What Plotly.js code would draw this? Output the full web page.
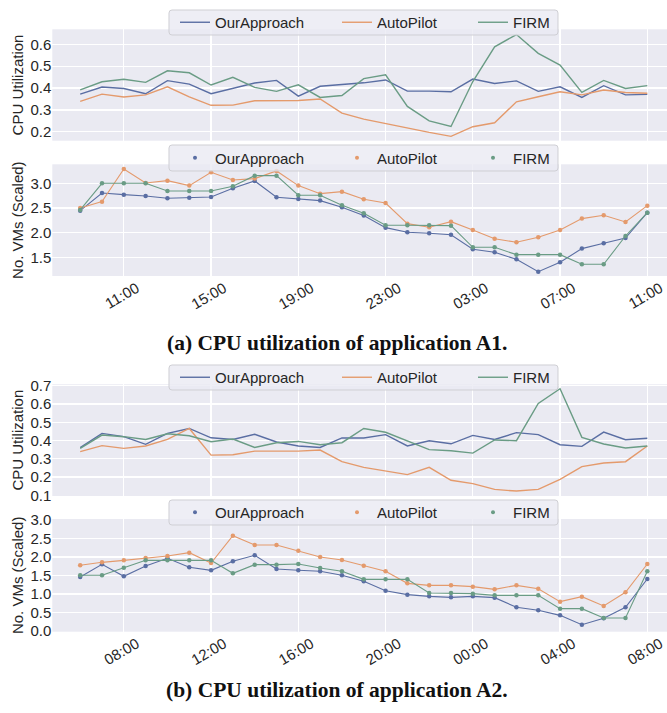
<!DOCTYPE html>
<html>
<head>
<meta charset="utf-8">
<script src="https://cdn.plot.ly/plotly-3.0.1.min.js"></script>
<style>html,body{margin:0;padding:0;background:#fff;}#chart{width:667px;height:713px;}</style>
</head>
<body>
<div id="chart"></div>
<script>
// ---------- data ----------
const seriesNames = ['OurApproach', 'AutoPilot', 'FIRM'];

const timesA = ['2023-01-01 09:00','2023-01-01 10:00','2023-01-01 11:00','2023-01-01 12:00','2023-01-01 13:00','2023-01-01 14:00','2023-01-01 15:00','2023-01-01 16:00','2023-01-01 17:00','2023-01-01 18:00','2023-01-01 19:00','2023-01-01 20:00','2023-01-01 21:00','2023-01-01 22:00','2023-01-01 23:00','2023-01-02 00:00','2023-01-02 01:00','2023-01-02 02:00','2023-01-02 03:00','2023-01-02 04:00','2023-01-02 05:00','2023-01-02 06:00','2023-01-02 07:00','2023-01-02 08:00','2023-01-02 09:00','2023-01-02 10:00','2023-01-02 11:00'];
const timesB = ['2023-01-01 06:00','2023-01-01 07:00','2023-01-01 08:00','2023-01-01 09:00','2023-01-01 10:00','2023-01-01 11:00','2023-01-01 12:00','2023-01-01 13:00','2023-01-01 14:00','2023-01-01 15:00','2023-01-01 16:00','2023-01-01 17:00','2023-01-01 18:00','2023-01-01 19:00','2023-01-01 20:00','2023-01-01 21:00','2023-01-01 22:00','2023-01-01 23:00','2023-01-02 00:00','2023-01-02 01:00','2023-01-02 02:00','2023-01-02 03:00','2023-01-02 04:00','2023-01-02 05:00','2023-01-02 06:00','2023-01-02 07:00','2023-01-02 08:00'];

// (a) application A1 - CPU utilization
const cpuA_our  = [0.372,0.405,0.398,0.374,0.434,0.418,0.374,0.398,0.423,0.435,0.363,0.408,0.417,0.424,0.437,0.386,0.386,0.383,0.441,0.421,0.433,0.385,0.406,0.357,0.411,0.369,0.371];
const cpuA_auto = [0.339,0.372,0.359,0.369,0.406,0.360,0.321,0.322,0.342,0.342,0.343,0.350,0.285,0.258,0.237,0.217,0.197,0.179,0.223,0.241,0.337,0.360,0.383,0.369,0.391,0.380,0.376];
const cpuA_firm = [0.392,0.429,0.440,0.426,0.479,0.470,0.414,0.449,0.403,0.385,0.415,0.357,0.366,0.443,0.461,0.316,0.250,0.224,0.430,0.589,0.645,0.559,0.505,0.380,0.435,0.398,0.411];
// (a) application A1 - No. VMs (scaled)
const vmA_our  = [2.446,2.804,2.770,2.743,2.696,2.709,2.723,2.899,3.047,2.716,2.682,2.649,2.514,2.345,2.101,2.007,1.986,1.958,1.662,1.601,1.459,1.208,1.399,1.676,1.784,1.891,2.405];
const vmA_auto = [2.500,2.628,3.290,3.007,3.054,2.953,3.223,3.068,3.095,3.250,2.953,2.790,2.831,2.676,2.601,2.182,2.108,2.222,2.053,1.877,1.804,1.905,2.053,2.284,2.351,2.216,2.547];
const vmA_firm = [2.460,3.000,3.000,3.000,2.845,2.845,2.845,2.939,3.155,3.155,2.757,2.757,2.554,2.392,2.149,2.149,2.149,2.142,1.703,1.703,1.554,1.554,1.554,1.358,1.358,1.932,2.405];

// (b) application A2 - CPU utilization
const cpuB_our  = [0.361,0.439,0.421,0.379,0.439,0.466,0.415,0.406,0.434,0.392,0.370,0.362,0.414,0.414,0.432,0.370,0.399,0.382,0.428,0.406,0.443,0.432,0.377,0.368,0.446,0.404,0.412];
const cpuB_auto = [0.339,0.372,0.357,0.370,0.406,0.466,0.320,0.322,0.342,0.342,0.342,0.348,0.284,0.253,0.233,0.213,0.253,0.182,0.164,0.132,0.123,0.132,0.187,0.257,0.277,0.284,0.370];
const cpuB_firm = [0.357,0.430,0.421,0.406,0.437,0.426,0.393,0.408,0.362,0.388,0.395,0.377,0.388,0.466,0.445,0.397,0.350,0.344,0.331,0.403,0.399,0.603,0.684,0.417,0.381,0.359,0.370];
// (b) application A2 - No. VMs (scaled)
const vmB_our  = [1.459,1.802,1.477,1.757,1.964,1.721,1.640,1.883,2.045,1.676,1.640,1.613,1.505,1.342,1.090,0.982,0.937,0.910,0.937,0.901,0.640,0.559,0.423,0.171,0.342,0.640,1.405];
const vmB_auto = [1.775,1.856,1.910,1.973,2.027,2.117,1.838,2.577,2.324,2.324,2.171,2.000,1.919,1.766,1.613,1.288,1.234,1.234,1.198,1.126,1.234,1.144,0.793,0.928,0.676,1.045,1.811];
const vmB_firm = [1.505,1.505,1.712,1.910,1.910,1.910,1.910,1.559,1.793,1.793,1.811,1.703,1.613,1.396,1.396,1.396,1.027,1.027,1.009,0.964,0.964,0.964,0.604,0.604,0.351,0.351,1.613];

const captionA = '(a) CPU utilization of application A1.';
const captionB = '(b) CPU utilization of application A2.';
const yTitleCPU = 'CPU Utilization';
const yTitleVM = 'No. VMs (Scaled)';

// ---------- styling ----------
const colors = ['#5A6EA3', '#E49A6C', '#6A9C85'];
const legendWidths = [117, 91, 45];
const FONT = 'Liberation Sans, Arial, sans-serif';
const TXT = '#262626';
const H = 713, W = 667;

const traces = [];
function lineTraces(x, ys, xa, ya, legendId) {
  ys.forEach((y, i) => traces.push({
    type: 'scatter', mode: 'lines', x: x, y: y, name: seriesNames[i],
    xaxis: xa, yaxis: ya, legend: legendId, legendwidth: legendWidths[i],
    line: {color: colors[i], width: 1.4}
  }));
}
function markerTraces(x, ys, xa, ya, legendId) {
  ys.forEach((y, i) => traces.push({
    type: 'scatter', mode: 'lines+markers', x: x, y: y, name: seriesNames[i],
    xaxis: xa, yaxis: ya, showlegend: false,
    line: {color: colors[i], width: 1.1},
    marker: {color: colors[i], size: 4.5}
  }));
  // legend-only entries (dot handle)
  seriesNames.forEach((n, i) => traces.push({
    type: 'scatter', mode: 'markers', x: [null], y: [null], name: n,
    xaxis: xa, yaxis: ya, legend: legendId, legendwidth: legendWidths[i],
    marker: {color: colors[i], size: 4}
  }));
}
lineTraces(timesA, [cpuA_our, cpuA_auto, cpuA_firm], 'x', 'y', 'legend');
markerTraces(timesA, [vmA_our, vmA_auto, vmA_firm], 'x2', 'y2', 'legend2');
lineTraces(timesB, [cpuB_our, cpuB_auto, cpuB_firm], 'x3', 'y3', 'legend3');
markerTraces(timesB, [vmB_our, vmB_auto, vmB_firm], 'x4', 'y4', 'legend4');

const dom = (top, bot) => [1 - bot / H, 1 - top / H];
const xDom = [52.3 / W, 1];

function xAxis(anchor, range, tick0, showLabels) {
  return {
    type: 'date', anchor: anchor, domain: xDom, range: range,
    tick0: tick0, dtick: 4 * 3600 * 1000, tickformat: '%H:%M',
    showticklabels: showLabels, tickangle: -30,
    ticklabelshift: 13, ticklabelstandoff: 0, ticklabeloverflow: 'allow',
    showgrid: true, gridcolor: '#ffffff', gridwidth: 1.2,
    zeroline: false, showline: false, ticks: '',
    tickfont: {family: FONT, size: 15, color: TXT}
  };
}
function yAxis(anchor, domain, range, dtick, title) {
  return {
    anchor: anchor, domain: domain, range: range, dtick: dtick, tick0: 0,
    tickformat: '.1f', showgrid: true, gridcolor: '#ffffff', gridwidth: 1.2,
    zeroline: false, showline: false, ticks: '',
    tickfont: {family: FONT, size: 15, color: TXT},
    title: {text: title, font: {family: FONT, size: 15, color: TXT}, standoff: 3}
  };
}
// legend frames (drawn as shapes above the traces, like matplotlib's legend frame)
const legendFrames = [[10, 35], [145, 171], [365, 390], [500, 525]];
function legendBox(frame) {
  const c = (frame[0] + frame[1]) / 2;
  return {
    orientation: 'h', x: 175 / W, xanchor: 'left', y: 1 - c / H, yanchor: 'middle',
    bgcolor: 'rgba(0,0,0,0)', borderwidth: 0,
    font: {family: FONT, size: 15, color: TXT}
  };
}
function roundRect(x0, y0, x1, y1, r) {
  // pixel coords -> paper coords path
  const px = v => (v / W).toFixed(5), py = v => (1 - v / H).toFixed(5);
  return `M ${px(x0 + r)} ${py(y0)} L ${px(x1 - r)} ${py(y0)} Q ${px(x1)} ${py(y0)} ${px(x1)} ${py(y0 + r)} ` +
         `L ${px(x1)} ${py(y1 - r)} Q ${px(x1)} ${py(y1)} ${px(x1 - r)} ${py(y1)} L ${px(x0 + r)} ${py(y1)} ` +
         `Q ${px(x0)} ${py(y1)} ${px(x0)} ${py(y1 - r)} L ${px(x0)} ${py(y0 + r)} Q ${px(x0)} ${py(y0)} ${px(x0 + r)} ${py(y0)} Z`;
}
const shapes = legendFrames.map(f => ({
  type: 'path', xref: 'paper', yref: 'paper', layer: 'above',
  path: roundRect(169, f[0], 558, f[1], 3),
  fillcolor: 'rgba(234,234,242,0.8)', line: {color: '#cfcfd4', width: 1}
}));

const layout = {
  width: W, height: H,
  margin: {l: 0, r: 0, t: 0, b: 0, pad: 0},
  paper_bgcolor: '#ffffff', plot_bgcolor: '#EAEAF2',
  showlegend: true,
  xaxis:  xAxis('y',  ['2023-01-01 07:43:15', '2023-01-02 11:54:10'], '2023-01-01 11:00', false),
  xaxis2: xAxis('y2', ['2023-01-01 07:43:15', '2023-01-02 11:54:10'], '2023-01-01 11:00', true),
  xaxis3: xAxis('y3', ['2023-01-01 04:43:15', '2023-01-02 08:54:10'], '2023-01-01 08:00', false),
  xaxis4: xAxis('y4', ['2023-01-01 04:43:15', '2023-01-02 08:54:10'], '2023-01-01 08:00', true),
  yaxis:  yAxis('x',  dom(29.3, 140.7), [0.159, 0.669], 0.1, yTitleCPU),
  yaxis2: yAxis('x2', dom(164.3, 276), [1.121, 3.385], 0.5, yTitleVM),
  yaxis3: yAxis('x3', dom(384.3, 496), [0.096, 0.708], 0.1, yTitleCPU),
  yaxis4: yAxis('x4', dom(519, 631.7), [-0.019, 3.027], 0.5, yTitleVM),
  legend: legendBox(legendFrames[0]),
  legend2: legendBox(legendFrames[1]),
  legend3: legendBox(legendFrames[2]),
  legend4: legendBox(legendFrames[3]),
  shapes: shapes,
  annotations: [
    {text: '<b>' + captionA + '</b>', xref: 'paper', yref: 'paper', x: 337 / W, y: 1 - 343 / H,
     xanchor: 'center', yanchor: 'middle', showarrow: false,
     font: {family: 'Liberation Serif, DejaVu Serif, serif', size: 21.5, color: '#111'}},
    {text: '<b>' + captionB + '</b>', xref: 'paper', yref: 'paper', x: 337 / W, y: 1 - 690 / H,
     xanchor: 'center', yanchor: 'middle', showarrow: false,
     font: {family: 'Liberation Serif, DejaVu Serif, serif', size: 21.5, color: '#111'}}
  ]
};

Plotly.newPlot('chart', traces, layout, {displayModeBar: false, staticPlot: true});
</script>
</body>
</html>
